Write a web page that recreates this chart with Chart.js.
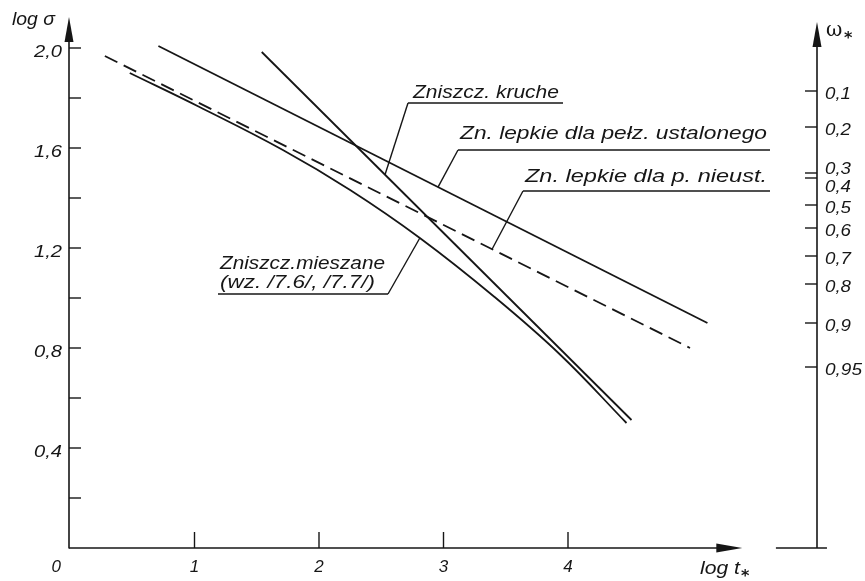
<!DOCTYPE html>
<html>
<head>
<meta charset="utf-8">
<script src="https://cdn.jsdelivr.net/npm/chart.js@4/dist/chart.umd.min.js"></script>
<style>
  html, body { margin: 0; padding: 0; background: #fff; }
  #wrap { width: 865px; height: 581px; }
</style>
</head>
<body>
<div id="wrap"><canvas id="c" width="865" height="581"></canvas></div>
<script>
// Failure curves: log t* (x) against log sigma (y)
const brittleT   = [1.54, 4.51];
const brittleS   = [1.984, 0.512];
const steadyT    = [0.71, 5.12];
const steadyS    = [2.008, 0.90];
const transientT = [0.28, 4.98];
const transientS = [1.968, 0.80];
const mixedT     = [0.48, 1.04, 1.71, 2.25, 2.81, 3.41, 3.94, 4.47];
const mixedS     = [1.90, 1.764, 1.592, 1.432, 1.24, 1.004, 0.772, 0.50];

// Axis ticks
const xTicks       = [1, 2, 3, 4];
const xTickLabels  = ['1', '2', '3', '4'];
const yMajor       = [0.4, 0.8, 1.2, 1.6, 2.0];
const yMajorLabels = ['0,4', '0,8', '1,2', '1,6', '2,0'];
const yMinor       = [0.2, 0.6, 1.0, 1.4, 1.8];
// Damage parameter omega* marked against the log sigma scale
const omegaLabels  = ['0,1', '0,2', '0,3', '0,4', '0,5', '0,6', '0,7', '0,8', '0,9', '0,95'];
const omegaLevels  = [1.828, 1.684, 1.50, 1.48, 1.372, 1.28, 1.168, 1.056, 0.90, 0.724];

const INK = '#161616';
const pts = (xs, ys) => xs.map((v, i) => ({ x: v, y: ys[i] }));
const onLine = (xs, ys, t) => ys[0] + (ys[1] - ys[0]) * (t - xs[0]) / (xs[1] - xs[0]);

const TXT = '"Liberation Sans Narrow", "Liberation Sans", Arial, sans-serif';

// italic lettering, optionally stretched to a given width
function fitText(ctx, text, x, yb, size, width, align) {
  ctx.font = 'italic ' + size + 'px ' + TXT;
  const w = ctx.measureText(text).width;
  const k = width ? width / w : 1;
  const realW = w * k;
  let left = x;
  if (align === 'right') left = x - realW;
  if (align === 'center') left = x - realW / 2;
  ctx.save();
  ctx.translate(left, yb);
  ctx.scale(k, 1);
  ctx.textAlign = 'left';
  ctx.textBaseline = 'alphabetic';
  ctx.fillText(text, 0, 0);
  ctx.restore();
}

function seg(ctx, x1, y1, x2, y2) {
  ctx.beginPath(); ctx.moveTo(x1, y1); ctx.lineTo(x2, y2); ctx.stroke();
}

function arrowHead(ctx, tx, ty, dir) {
  ctx.beginPath();
  if (dir === 'up') {
    ctx.moveTo(tx, ty); ctx.lineTo(tx - 4.5, ty + 25); ctx.lineTo(tx + 4.5, ty + 25);
  } else {
    ctx.moveTo(tx, ty); ctx.lineTo(tx - 26, ty - 4.5); ctx.lineTo(tx - 26, ty + 4.5);
  }
  ctx.closePath(); ctx.fill();
}

const frame = {
  id: 'frame',
  afterDatasetsDraw(chart) {
    const { ctx, scales: { x, y } } = chart;
    const X = v => x.getPixelForValue(v);
    const Y = v => y.getPixelForValue(v);
    ctx.save();
    ctx.strokeStyle = INK; ctx.fillStyle = INK; ctx.lineWidth = 1.6;

    const x0 = X(0) - 1, y0 = Y(0);
    const xr = X(6);

    // left axis with arrow
    seg(ctx, x0, y0 + 0.5, x0, Y(2.12) + 10);
    arrowHead(ctx, x0, Y(2.124), 'up');
    // bottom axis with arrow
    seg(ctx, x0, y0, X(5.3), y0);
    arrowHead(ctx, X(5.4), y0, 'right');
    // right omega axis
    seg(ctx, xr, y0, xr, Y(2.10) + 10);
    arrowHead(ctx, xr, Y(2.104), 'up');
    seg(ctx, X(5.67), y0, X(6.08), y0);

    ctx.lineWidth = 1.4;
    // left ticks
    yMinor.concat(yMajor).forEach(v => seg(ctx, x0, Y(v), x0 + 12, Y(v)));
    // bottom ticks
    xTicks.forEach(v => seg(ctx, X(v), y0, X(v), y0 - 16));
    // omega ticks
    omegaLevels.forEach(v => seg(ctx, xr - 12, Y(v), xr, Y(v)));

    // tick labels
    ctx.fillStyle = INK;
    yMajor.forEach((v, i) => fitText(ctx, yMajorLabels[i], x0 - 7, Y(v) + 9, 17, 28, 'right'));
    xTicks.forEach((v, i) => fitText(ctx, xTickLabels[i], X(v), y0 + 24, 17, 0, 'center'));
    fitText(ctx, '0', x0 - 8, y0 + 24, 17, 0, 'right');
    omegaLevels.forEach((v, i) => {
      let dy = 8;
      if (omegaLabels[i] === '0,3') dy = 1;
      if (omegaLabels[i] === '0,4') dy = 14;
      const w = omegaLabels[i].length > 3 ? 37 : 26;
      fitText(ctx, omegaLabels[i], xr + 8, Y(v) + dy, 17, w, 'left');
    });

    // axis titles
    fitText(ctx, 'log σ', 12, 25, 18, 43, 'left');
    fitText(ctx, 'log t', 700, 574, 18, 40, 'left');
    ctx.font = 'bold 16px "DejaVu Sans", sans-serif';
    ctx.textAlign = 'left';
    ctx.fillText('*', 741, 581);
    ctx.font = '20px "DejaVu Serif", serif';
    ctx.fillText('ω', 826, 36);
    ctx.font = 'bold 16px "DejaVu Sans", sans-serif';
    ctx.fillText('*', 844, 43);

    // curve annotations with leader lines
    ctx.lineWidth = 1.4;
    const notes = [
      { text: 'Zniszcz. kruche', x: 413, yb: 98, w: 146, ux1: 408, ux2: 563, uy: 103,
        ax: X(2.53), ay: Y(onLine(brittleT, brittleS, 2.53)) },
      { text: 'Zn. lepkie dla pełz. ustalonego', x: 460, yb: 139, w: 307, ux1: 458, ux2: 770, uy: 150,
        ax: X(2.956), ay: Y(onLine(steadyT, steadyS, 2.956)) },
      { text: 'Zn. lepkie dla p. nieust.', x: 525, yb: 182, w: 242, ux1: 523, ux2: 770, uy: 191,
        ax: X(3.39), ay: Y(onLine(transientT, transientS, 3.39)) },
      { text: '(wz. /7.6/, /7.7/)', x: 220, yb: 288, w: 155, ux1: 218, ux2: 388, uy: 294,
        ax: X(mixedT[4]), ay: Y(mixedS[4]), leftEnd: false }
    ];
    notes.forEach(n => {
      fitText(ctx, n.text, n.x, n.yb, 19, n.w, 'left');
      seg(ctx, n.ux1, n.uy, n.ux2, n.uy);
      const lx = n.leftEnd === false ? n.ux2 : n.ux1;
      seg(ctx, lx, n.uy, n.ax, n.ay);
    });
    fitText(ctx, 'Zniszcz.mieszane', 220, 269, 19, 165, 'left');

    ctx.restore();
  }
};

const lineStyle = { showLine: true, pointRadius: 0, borderColor: INK, borderWidth: 1.8, fill: false };

new Chart(document.getElementById('c'), {
  type: 'scatter',
  data: {
    datasets: [
      Object.assign({ label: 'Zniszcz. kruche', data: pts(brittleT, brittleS) }, lineStyle),
      Object.assign({ label: 'Zn. lepkie dla pełz. ustalonego', data: pts(steadyT, steadyS) }, lineStyle),
      Object.assign({ label: 'Zn. lepkie dla p. nieust.', data: pts(transientT, transientS), borderDash: [14, 7] }, lineStyle),
      Object.assign({ label: 'Zniszcz.mieszane', data: pts(mixedT, mixedS), tension: 0.4 }, lineStyle)
    ]
  },
  options: {
    responsive: false,
    animation: false,
    devicePixelRatio: 1,
    layout: { padding: { left: 70, right: 48, top: 18, bottom: 33 } },
    scales: {
      x: { type: 'linear', min: 0, max: 6, display: false },
      y: { type: 'linear', min: 0, max: 2.12, display: false }
    },
    plugins: { legend: { display: false }, tooltip: { enabled: false } }
  },
  plugins: [frame]
});
</script>
</body>
</html>
